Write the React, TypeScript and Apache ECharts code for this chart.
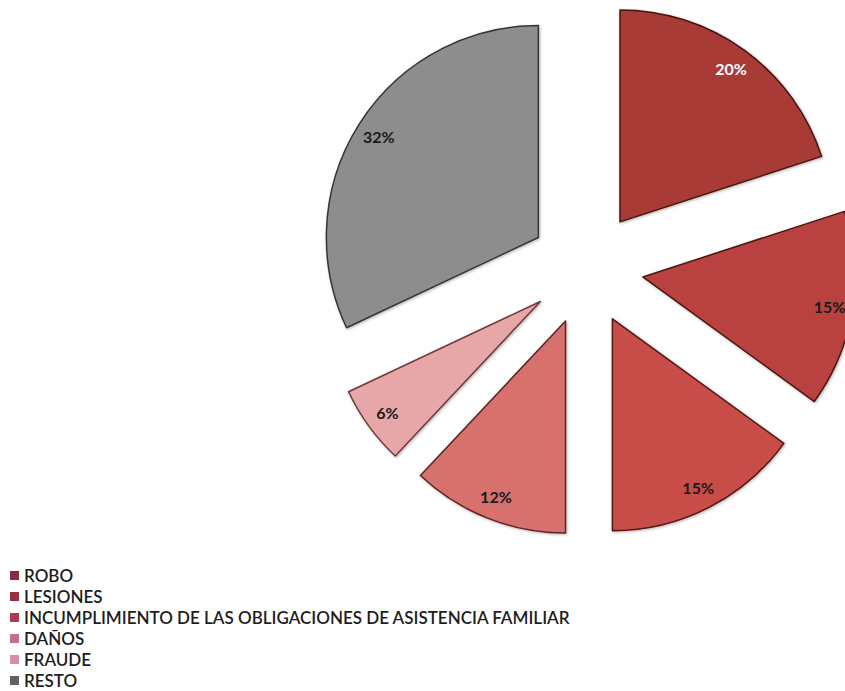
import React, { useEffect, useRef } from "react";
import * as echarts from "echarts";

const categories = [
  "ROBO",
  "LESIONES",
  "INCUMPLIMIENTO DE LAS OBLIGACIONES DE ASISTENCIA FAMILIAR",
  "DAÑOS",
  "FRAUDE",
  "RESTO",
];
const values = [20, 15, 15, 12, 6, 32];
const sliceColors = ["#a83a36", "#b9433f", "#c84d48", "#d6716e", "#e7a6a8", "#8d8d8d"];
const borderColors = ["#4a1210", "#4e1412", "#551614", "#5e2422", "#6e3a3c", "#353535"];
const legendColors = ["#8a2c3c", "#992f40", "#b03a52", "#c0728a", "#d98ea2", "#626262"];
const labelColors = ["#ffffff", "#1a1a1a", "#1a1a1a", "#1a1a1a", "#1a1a1a", "#1a1a1a"];

export default function App() {
  const ref = useRef<HTMLDivElement>(null);
  useEffect(() => {
    if (!ref.current) return;
    const chart = echarts.init(ref.current, undefined, { renderer: "svg" });
    const center = [586.5, 268];
    const offset = 57;
    chart.setOption({
      animation: false,
      backgroundColor: "#ffffff",
      legend: {
        orient: "vertical",
        left: 10,
        top: 567,
        padding: 0,
        itemWidth: 9,
        itemHeight: 9,
        itemGap: 4,
        icon: "rect",
        selectedMode: false,
        itemStyle: { borderWidth: 0 },
        textStyle: {
          fontFamily: "Lato, sans-serif",
          fontSize: 17,
          fontWeight: 600,
          lineHeight: 17,
          color: "#1e1e1e",
        },
        data: categories.map((c, i) => ({
          name: c,
          itemStyle: { color: legendColors[i], borderWidth: 0 },
        })),
      },
      series: [
        {
          type: "pie",
          center,
          radius: [0, 212],
          startAngle: 90,
          selectedMode: "multiple",
          selectedOffset: offset,
          emphasis: { disabled: true },
          label: { show: false },
          labelLine: { show: false },
          data: categories.map((c, i) => ({
            name: c,
            value: values[i],
            selected: true,
            itemStyle: {
              color: sliceColors[i],
              borderColor: borderColors[i],
              borderWidth: 1.5,
              shadowBlur: 3,
              shadowOffsetX: 1,
              shadowOffsetY: 1,
              shadowColor: "rgba(0,0,0,0.3)",
            },
          })),
        },
        {
          type: "pie",
          center,
          radius: [172, 200],
          startAngle: 90,
          selectedMode: "multiple",
          selectedOffset: offset,
          silent: true,
          emphasis: { disabled: true },
          avoidLabelOverlap: false,
          labelLine: { show: false },
          itemStyle: { color: "rgba(0,0,0,0)" },
          label: {
            show: true,
            position: "inside",
            fontFamily: "Lato, sans-serif",
            fontWeight: "bold",
            fontSize: 16,
            formatter: (p: any) => p.value + "%",
          },
          data: categories.map((c, i) => ({
            name: c,
            value: values[i],
            selected: true,
            label: { color: labelColors[i] },
          })),
        },
      ],
    });
    return () => chart.dispose();
  }, []);
  return (
    <div
      ref={ref}
      style={{ position: "absolute", left: 0, top: 0, width: 845, height: 691 }}
    />
  );
}
